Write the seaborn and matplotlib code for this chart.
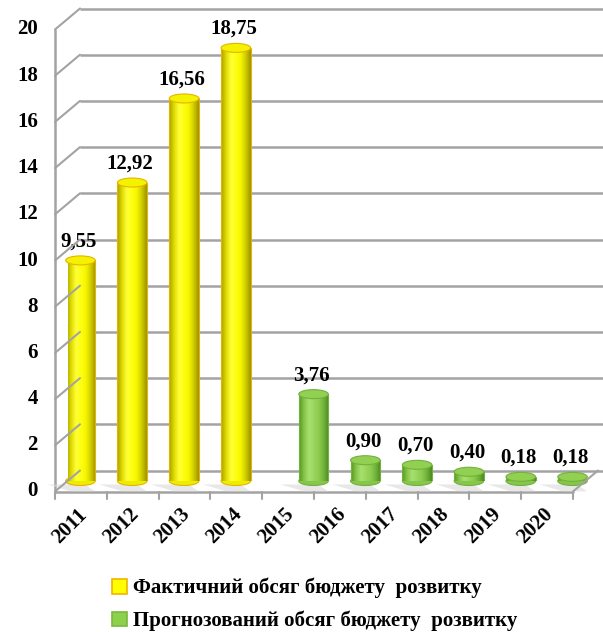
import numpy as np
import pandas as pd
import matplotlib
matplotlib.use("Agg")
import matplotlib.pyplot as plt
import matplotlib.transforms as mtransforms
from matplotlib.colors import LinearSegmentedColormap
from matplotlib.patches import Ellipse, Patch, Polygon
import seaborn as sns

# ---- data -------------------------------------------------------------
years = ["2011", "2012", "2013", "2014", "2015", "2016", "2017", "2018", "2019", "2020"]
actual_years = ["2011", "2012", "2013", "2014"]
actual_values = [9.55, 12.92, 16.56, 18.75]
forecast_years = ["2015", "2016", "2017", "2018", "2019", "2020"]
forecast_values = [3.76, 0.90, 0.70, 0.40, 0.18, 0.18]
series_names = ["Фактичний обсяг бюджету  розвитку",
                "Прогнозований обсяг бюджету  розвитку"]
y_ticks = [0, 2, 4, 6, 8, 10, 12, 14, 16, 18, 20]

df = pd.DataFrame({
    "year": actual_years + forecast_years,
    "value": actual_values + forecast_values,
    "series": [series_names[0]] * len(actual_years) + [series_names[1]] * len(forecast_years),
})

sns.set_theme(style="white")
plt.rcParams["font.family"] = ["Liberation Serif", "DejaVu Serif"]
plt.rcParams["font.weight"] = "bold"
plt.rcParams["text.color"] = "black"

W, H, DPI = 603, 632, 100
fig = plt.figure(figsize=(W / DPI, H / DPI), dpi=DPI)

# the axes is the mid-depth plane of the 3-D box
x0_px, x1_px = 67.5, 585.5
y0_px, y20_px = 481.0, 19.0
ax = fig.add_axes([x0_px / W, (H - y0_px) / H, (x1_px - x0_px) / W, (y0_px - y20_px) / H])
ax.set_xlim(-0.5, 9.5)
ax.set_ylim(0, 20)
ax.axis("off")

# depth offsets (pixels) for the front and back planes
DX, DY = 12.5, 10.5
front = ax.transData + mtransforms.ScaledTranslation(-DX / DPI, -DY / DPI, fig.dpi_scale_trans)
back = ax.transData + mtransforms.ScaledTranslation(DX / DPI, DY / DPI, fig.dpi_scale_trans)

grid_c = "#a3a3a3"


def fig_line(p, q, lw=1.5):
    fig.lines.append(plt.Line2D([p[0] / W, q[0] / W], [p[1] / H, q[1] / H],
                                color=grid_c, lw=lw, transform=fig.transFigure, zorder=1))


# back wall gridlines
for v in y_ticks:
    ax.plot([-0.5, 9.6], [v, v], color=grid_c, lw=1.8, transform=back, clip_on=False, zorder=1,
            solid_capstyle="butt")
# left wall: front edge + connectors to the back wall
ax.plot([-0.5, -0.5], [0, 20], color=grid_c, lw=1.8, transform=front, clip_on=False, zorder=1)
for v in y_ticks:
    fig_line(front.transform((-0.5, v)), back.transform((-0.5, v)))
# floor: front edge, right edge and ticks
ax.plot([-0.5, 9.5], [0, 0], color=grid_c, lw=1.8, transform=front, clip_on=False, zorder=1)
fig_line(front.transform((9.5, 0)), back.transform((9.5, 0)))
for b in np.arange(-0.5, 10.0, 1.0):
    p1 = front.transform((b, 0))
    fig_line(p1, (p1[0], p1[1] - 7))

# ---- bars -----------------------------------------------------------------
palette = {series_names[0]: "#ffff00", series_names[1]: "#92d050"}
sns.barplot(data=df, x="year", y="value", hue="series", order=years, hue_order=series_names,
            palette=palette, saturation=1, dodge=True, width=1.0, ax=ax, legend=False,
            errorbar=None)
ax.set_xlim(-0.5, 9.5)
ax.set_ylim(0, 20)
ax.axis("off")

yellow_cmap = LinearSegmentedColormap.from_list(
    "yel", ["#a8a200", "#e0dc00", "#ffff3a", "#ffff10", "#f6f400", "#d0cc00", "#9a9400"])
green_cmap = LinearSegmentedColormap.from_list(
    "grn", ["#5a9626", "#86c648", "#a8e070", "#9ad65e", "#8ccc50", "#72b23a", "#4c8a20"])
styles = [
    (yellow_cmap, "#f4f200", "#e6b400"),
    (green_cmap, "#92d052", "#74b040"),
]

px_per_unit = (y0_px - y20_px) / 20.0
ell_h = 9.0 / px_per_unit
bar_w = 0.57
grad = np.linspace(0, 1, 64).reshape(1, -1)

for si, cont in enumerate(ax.containers):
    cmap, top_c, edge_c = styles[si]
    for p in cont.patches:
        h = p.get_height()
        p.set_visible(False)
        if not np.isfinite(h) or h <= 0:
            continue
        xc = p.get_x() + p.get_width() / 2
        xl, xr = xc - bar_w / 2, xc + bar_w / 2
        # floor shadow
        ax.add_patch(Polygon([[xl - 0.35, -0.15], [xl + 0.1, -0.45], [xr, -0.45], [xr - 0.2, -0.15]],
                             closed=True, facecolor="#d9d9d9", edgecolor="none", alpha=0.6,
                             zorder=2, clip_on=False))
        # base ellipse
        ax.add_patch(Ellipse((xc, 0), bar_w, ell_h, facecolor=cmap(0.7), edgecolor=edge_c,
                             lw=0.8, zorder=3, clip_on=False))
        # cylinder body with horizontal shading
        ax.imshow(grad, cmap=cmap, extent=[xl, xr, 0, h], aspect="auto", zorder=4,
                  interpolation="bicubic")
        ax.plot([xl, xl], [0, h], color=edge_c, lw=0.8, zorder=4.5)
        ax.plot([xr, xr], [0, h], color=edge_c, lw=0.8, zorder=4.5)
        # top ellipse
        ax.add_patch(Ellipse((xc, h), bar_w, ell_h, facecolor=top_c, edgecolor=edge_c,
                             lw=0.8, zorder=5, clip_on=False))
        # value label
        ax.annotate(f"{h:.2f}".replace(".", ","), (xc, h), xytext=(-2, 19),
                    textcoords="offset pixels", ha="center", va="center", fontsize=15,
                    fontweight="bold", color="black", zorder=6, annotation_clip=False)

ax.set_xlim(-0.5, 9.5)
ax.set_ylim(0, 20)

# ---- axis labels ------------------------------------------------------------
ylab_tr = front + mtransforms.ScaledTranslation(-17 / DPI, 0, fig.dpi_scale_trans)
for v in y_ticks:
    ax.text(-0.5, v, str(v), transform=ylab_tr, ha="right", va="center", fontsize=15,
            fontweight="bold", color="black", clip_on=False)
xlab_tr = front + mtransforms.ScaledTranslation(3 / DPI, -20 / DPI, fig.dpi_scale_trans)
for k, yr in enumerate(years):
    ax.text(k, 0, yr, transform=xlab_tr, ha="right", va="center", rotation=45,
            rotation_mode="anchor", fontsize=15, fontweight="bold", color="black", clip_on=False)

# ---- legend -------------------------------------------------------------------
handles = [Patch(facecolor="#ffff00", edgecolor="#f0b400", lw=1.2),
           Patch(facecolor="#8cd04c", edgecolor="#7ab840", lw=1.2)]
leg = fig.legend(handles, series_names, loc="upper left", bbox_to_anchor=(112 / W, 1 - 578 / H),
                 frameon=False, prop={"weight": "bold", "size": 15},
                 handlelength=0.7, handleheight=0.7, handletextpad=0.3, labelspacing=0.58,
                 borderpad=0, borderaxespad=0)
for t in leg.get_texts():
    t.set_color("black")

fig.savefig("out.png", dpi=DPI, facecolor="white")
